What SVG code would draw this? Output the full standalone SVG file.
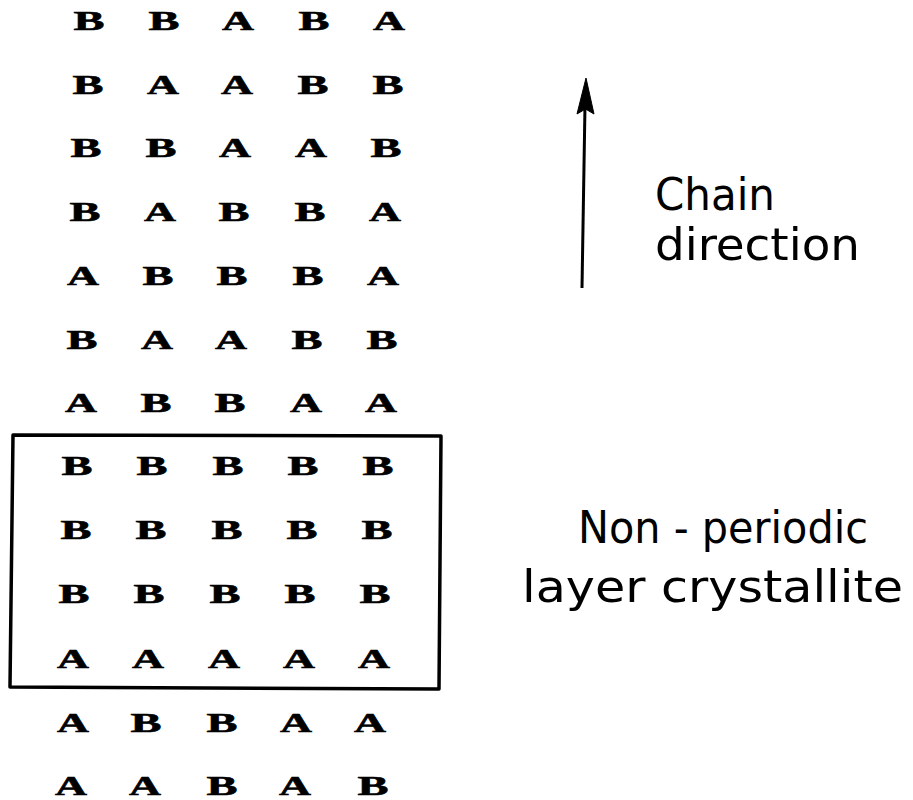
<svg xmlns="http://www.w3.org/2000/svg" width="913" height="800" viewBox="0 0 913 800">
<style>
.l{font-family:"Liberation Serif","Times New Roman",serif;font-weight:bold;font-size:28px;fill:#000;text-anchor:middle;stroke:#000;stroke-width:0.6}
.lbl{font-family:"DejaVu Sans Condensed","DejaVu Sans","Liberation Sans",sans-serif;font-size:45px;fill:#000}
</style>
<rect width="913" height="800" fill="#fff"/>
<g id="grid">
<g id="row1"><text class="l" x="89" y="30" textLength="31" lengthAdjust="spacingAndGlyphs">B</text><text class="l" x="164" y="30" textLength="31" lengthAdjust="spacingAndGlyphs">B</text><text class="l" x="238" y="30" textLength="32" lengthAdjust="spacingAndGlyphs">A</text><text class="l" x="314" y="30" textLength="31" lengthAdjust="spacingAndGlyphs">B</text><text class="l" x="389" y="30" textLength="32" lengthAdjust="spacingAndGlyphs">A</text></g>
<g id="row2"><text class="l" x="88" y="94" textLength="31" lengthAdjust="spacingAndGlyphs">B</text><text class="l" x="163" y="94" textLength="32" lengthAdjust="spacingAndGlyphs">A</text><text class="l" x="237" y="94" textLength="32" lengthAdjust="spacingAndGlyphs">A</text><text class="l" x="313" y="94" textLength="31" lengthAdjust="spacingAndGlyphs">B</text><text class="l" x="388" y="94" textLength="31" lengthAdjust="spacingAndGlyphs">B</text></g>
<g id="row3"><text class="l" x="86" y="157" textLength="31" lengthAdjust="spacingAndGlyphs">B</text><text class="l" x="161" y="157" textLength="31" lengthAdjust="spacingAndGlyphs">B</text><text class="l" x="235" y="157" textLength="32" lengthAdjust="spacingAndGlyphs">A</text><text class="l" x="311" y="157" textLength="32" lengthAdjust="spacingAndGlyphs">A</text><text class="l" x="386" y="157" textLength="31" lengthAdjust="spacingAndGlyphs">B</text></g>
<g id="row4"><text class="l" x="85" y="221" textLength="31" lengthAdjust="spacingAndGlyphs">B</text><text class="l" x="160" y="221" textLength="32" lengthAdjust="spacingAndGlyphs">A</text><text class="l" x="234" y="221" textLength="31" lengthAdjust="spacingAndGlyphs">B</text><text class="l" x="310" y="221" textLength="31" lengthAdjust="spacingAndGlyphs">B</text><text class="l" x="385" y="221" textLength="32" lengthAdjust="spacingAndGlyphs">A</text></g>
<g id="row5"><text class="l" x="83" y="285" textLength="32" lengthAdjust="spacingAndGlyphs">A</text><text class="l" x="158" y="285" textLength="31" lengthAdjust="spacingAndGlyphs">B</text><text class="l" x="232" y="285" textLength="31" lengthAdjust="spacingAndGlyphs">B</text><text class="l" x="308" y="285" textLength="31" lengthAdjust="spacingAndGlyphs">B</text><text class="l" x="383" y="285" textLength="32" lengthAdjust="spacingAndGlyphs">A</text></g>
<g id="row6"><text class="l" x="82" y="349" textLength="31" lengthAdjust="spacingAndGlyphs">B</text><text class="l" x="157" y="349" textLength="32" lengthAdjust="spacingAndGlyphs">A</text><text class="l" x="231" y="349" textLength="32" lengthAdjust="spacingAndGlyphs">A</text><text class="l" x="307" y="349" textLength="31" lengthAdjust="spacingAndGlyphs">B</text><text class="l" x="382" y="349" textLength="31" lengthAdjust="spacingAndGlyphs">B</text></g>
<g id="row7"><text class="l" x="81" y="412" textLength="32" lengthAdjust="spacingAndGlyphs">A</text><text class="l" x="156" y="412" textLength="31" lengthAdjust="spacingAndGlyphs">B</text><text class="l" x="230" y="412" textLength="31" lengthAdjust="spacingAndGlyphs">B</text><text class="l" x="306" y="412" textLength="32" lengthAdjust="spacingAndGlyphs">A</text><text class="l" x="381" y="412" textLength="32" lengthAdjust="spacingAndGlyphs">A</text></g>
<g id="row8"><text class="l" x="77" y="475" textLength="31" lengthAdjust="spacingAndGlyphs">B</text><text class="l" x="152" y="475" textLength="31" lengthAdjust="spacingAndGlyphs">B</text><text class="l" x="228" y="475" textLength="31" lengthAdjust="spacingAndGlyphs">B</text><text class="l" x="303" y="475" textLength="31" lengthAdjust="spacingAndGlyphs">B</text><text class="l" x="378" y="475" textLength="31" lengthAdjust="spacingAndGlyphs">B</text></g>
<g id="row9"><text class="l" x="76" y="539" textLength="31" lengthAdjust="spacingAndGlyphs">B</text><text class="l" x="151" y="539" textLength="31" lengthAdjust="spacingAndGlyphs">B</text><text class="l" x="227" y="539" textLength="31" lengthAdjust="spacingAndGlyphs">B</text><text class="l" x="302" y="539" textLength="31" lengthAdjust="spacingAndGlyphs">B</text><text class="l" x="377" y="539" textLength="31" lengthAdjust="spacingAndGlyphs">B</text></g>
<g id="row10"><text class="l" x="74" y="603" textLength="31" lengthAdjust="spacingAndGlyphs">B</text><text class="l" x="149" y="603" textLength="31" lengthAdjust="spacingAndGlyphs">B</text><text class="l" x="225" y="603" textLength="31" lengthAdjust="spacingAndGlyphs">B</text><text class="l" x="300" y="603" textLength="31" lengthAdjust="spacingAndGlyphs">B</text><text class="l" x="375" y="603" textLength="31" lengthAdjust="spacingAndGlyphs">B</text></g>
<g id="row11"><text class="l" x="73" y="668" textLength="32" lengthAdjust="spacingAndGlyphs">A</text><text class="l" x="148" y="668" textLength="32" lengthAdjust="spacingAndGlyphs">A</text><text class="l" x="224" y="668" textLength="32" lengthAdjust="spacingAndGlyphs">A</text><text class="l" x="299" y="668" textLength="32" lengthAdjust="spacingAndGlyphs">A</text><text class="l" x="374" y="668" textLength="32" lengthAdjust="spacingAndGlyphs">A</text></g>
<g id="row12"><text class="l" x="73" y="732" textLength="32" lengthAdjust="spacingAndGlyphs">A</text><text class="l" x="146" y="732" textLength="31" lengthAdjust="spacingAndGlyphs">B</text><text class="l" x="222" y="732" textLength="31" lengthAdjust="spacingAndGlyphs">B</text><text class="l" x="296" y="732" textLength="32" lengthAdjust="spacingAndGlyphs">A</text><text class="l" x="370" y="732" textLength="32" lengthAdjust="spacingAndGlyphs">A</text></g>
<g id="row13"><text class="l" x="71" y="795" textLength="32" lengthAdjust="spacingAndGlyphs">A</text><text class="l" x="145" y="795" textLength="32" lengthAdjust="spacingAndGlyphs">A</text><text class="l" x="222" y="795" textLength="31" lengthAdjust="spacingAndGlyphs">B</text><text class="l" x="295" y="795" textLength="32" lengthAdjust="spacingAndGlyphs">A</text><text class="l" x="373" y="795" textLength="31" lengthAdjust="spacingAndGlyphs">B</text></g>
</g>
<g id="crystallite-box">
<path d="M13 435 L441 436 L439 689 L10 687 Z" fill="none" stroke="#000" stroke-width="3.5" stroke-linejoin="round"/>
</g>
<g id="connectors">
<line x1="582" y1="288" x2="585" y2="105" stroke="#000" stroke-width="3"/>
<path d="M586 78 L594 114 L585.5 109 L577 114 Z" fill="#000" stroke="#000" stroke-width="1" stroke-linejoin="round"/>
</g>
<g id="label-chain">
<text class="lbl" x="655" y="210" textLength="120" lengthAdjust="spacingAndGlyphs">Chain</text>
<text class="lbl" x="655" y="260" textLength="205" lengthAdjust="spacingAndGlyphs">direction</text>
</g>
<g id="label-crystallite">
<text class="lbl" x="578" y="543" textLength="290" lengthAdjust="spacingAndGlyphs">Non - periodic</text>
<text class="lbl" x="522" y="602" textLength="381" lengthAdjust="spacingAndGlyphs">layer crystallite</text>
</g>
</svg>
